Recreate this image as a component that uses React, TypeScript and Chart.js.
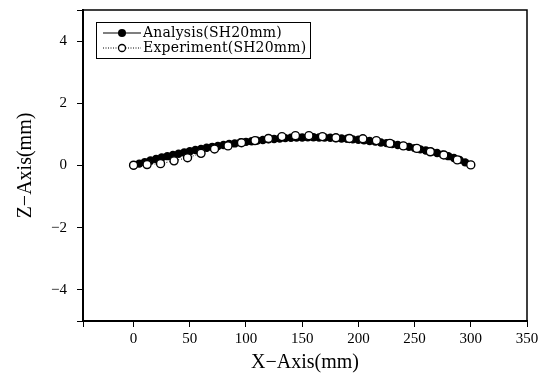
import { useEffect, useRef } from 'react';
import { Chart, registerables } from 'chart.js';

Chart.register(...registerables);

const analysisX = [0, 5, 10, 15, 20, 25, 30, 35, 40, 45, 50, 55, 60, 65, 70, 75, 80, 85, 90, 95, 100, 105, 110, 115, 120, 125, 130, 135, 140, 145, 150, 155, 160, 165, 170, 175, 180, 185, 190, 195, 200, 205, 210, 215, 220, 225, 230, 235, 240, 245, 250, 255, 260, 265, 270, 275, 280, 285, 290, 295, 300];
const analysisZ = [0.0, 0.06, 0.11, 0.16, 0.21, 0.26, 0.30, 0.34, 0.38, 0.42, 0.46, 0.50, 0.53, 0.57, 0.60, 0.63, 0.66, 0.69, 0.71, 0.74, 0.76, 0.78, 0.80, 0.82, 0.84, 0.85, 0.87, 0.88, 0.89, 0.90, 0.90, 0.91, 0.91, 0.90, 0.90, 0.89, 0.88, 0.87, 0.86, 0.84, 0.83, 0.81, 0.79, 0.77, 0.74, 0.72, 0.69, 0.66, 0.63, 0.60, 0.56, 0.52, 0.48, 0.44, 0.40, 0.35, 0.30, 0.24, 0.18, 0.10, 0.02];

const experimentX = [0, 12, 24, 36, 48, 60, 72, 84, 96, 108, 120, 132, 144, 156, 168, 180, 192, 204, 216, 228, 240, 252, 264, 276, 288, 300];
const experimentZ = [0.01, 0.03, 0.06, 0.15, 0.25, 0.39, 0.53, 0.63, 0.73, 0.80, 0.87, 0.93, 0.96, 0.96, 0.93, 0.89, 0.87, 0.86, 0.80, 0.71, 0.63, 0.55, 0.44, 0.34, 0.18, 0.02];

const seriesLabels = ['Analysis(SH20mm)', 'Experiment(SH20mm)'];
const xTicks = [-45, 0, 50, 100, 150, 200, 250, 300, 350];
const yTicks = [-5, -4, -2, 0, 2, 4, 5];
const yLabelled = [-4, -2, 0, 2, 4];

const FONT = '"Liberation Serif", "DejaVu Serif", serif';
const LEGEND_FONT = '"DejaVu Serif", "Liberation Serif", serif';

const framePlugin = {
  id: 'frame',
  afterDraw(chart: any) {
    const { ctx, chartArea } = chart;
    ctx.save();
    ctx.strokeStyle = '#000';
    ctx.lineWidth = 1.5;
    ctx.beginPath();
    ctx.moveTo(chartArea.left, chartArea.top);
    ctx.lineTo(chartArea.right, chartArea.top);
    ctx.lineTo(chartArea.right, chartArea.bottom);
    ctx.stroke();
    ctx.restore();
  },
};

const legendPlugin = {
  id: 'boxLegend',
  afterDraw(chart: any) {
    const { ctx } = chart;
    const x0 = 96, y0 = 22, w = 214, h = 36;
    ctx.save();
    ctx.fillStyle = '#fff';
    ctx.fillRect(x0, y0, w, h);
    ctx.strokeStyle = '#000';
    ctx.lineWidth = 1;
    ctx.strokeRect(x0 + 0.5, y0 + 0.5, w, h);
    const rows = [y0 + 11, y0 + 26];
    ctx.beginPath();
    ctx.moveTo(x0 + 7, rows[0]);
    ctx.lineTo(x0 + 45, rows[0]);
    ctx.lineWidth = 1.2;
    ctx.stroke();
    ctx.beginPath();
    ctx.arc(x0 + 26, rows[0], 4, 0, Math.PI * 2);
    ctx.fillStyle = '#000';
    ctx.fill();
    ctx.lineWidth = 1;
    ctx.setLineDash([1, 1.5]);
    ctx.beginPath();
    ctx.moveTo(x0 + 7, rows[1]);
    ctx.lineTo(x0 + 45, rows[1]);
    ctx.stroke();
    ctx.setLineDash([]);
    ctx.beginPath();
    ctx.arc(x0 + 26, rows[1], 3.5, 0, Math.PI * 2);
    ctx.fillStyle = '#fff';
    ctx.fill();
    ctx.lineWidth = 1.3;
    ctx.stroke();
    ctx.fillStyle = '#000';
    ctx.font = '14px ' + LEGEND_FONT;
    try { (ctx as any).letterSpacing = '0.2px'; } catch (e) { /* ignore */ }
    ctx.textBaseline = 'middle';
    ctx.textAlign = 'left';
    ctx.fillText(seriesLabels[0], x0 + 47, rows[0]);
    ctx.fillText(seriesLabels[1], x0 + 47, rows[1]);
    ctx.restore();
  },
};

export default function App() {
  const ref = useRef<HTMLCanvasElement | null>(null);
  useEffect(() => {
    document.body.style.margin = '0';
    const canvas = ref.current;
    if (!canvas) return;
    const chart = new Chart(canvas, {
      type: 'scatter',
      data: {
        datasets: [
          {
            label: seriesLabels[1],
            data: experimentX.map((x, i) => ({ x, y: experimentZ[i] })),
            showLine: true,
            borderColor: '#000',
            borderWidth: 1,
            borderDash: [1, 2],
            pointRadius: 4,
            pointBackgroundColor: '#fff',
            pointBorderColor: '#000',
            pointBorderWidth: 1.4,
            order: 0,
          },
          {
            label: seriesLabels[0],
            data: analysisX.map((x, i) => ({ x, y: analysisZ[i] })),
            showLine: true,
            borderColor: '#000',
            borderWidth: 2.5,
            pointRadius: 4.2,
            pointBackgroundColor: '#000',
            pointBorderColor: '#000',
            pointBorderWidth: 0,
            order: 1,
          },
        ],
      },
      options: {
        animation: false,
        responsive: false,
        layout: { padding: { left: 0, top: 10, right: 22, bottom: 0 } },
        plugins: { legend: { display: false }, tooltip: { enabled: false } },
        scales: {
          x: {
            type: 'linear',
            min: -45,
            max: 350,
            afterBuildTicks: (s: any) => { s.ticks = xTicks.map((v) => ({ value: v })); },
            afterFit: (s: any) => { s.height = 62; s.paddingLeft = 0; s.paddingRight = 0; },
            grid: { drawOnChartArea: false, drawTicks: true, tickLength: 6, color: '#000', lineWidth: 1 },
            border: { color: '#000', width: 2 },
            ticks: {
              color: '#000',
              padding: 3,
              maxRotation: 0,
              autoSkip: false,
              font: { family: FONT, size: 15 },
              callback: (v: any) => (v < 0 ? '' : String(v)),
            },
            title: {
              display: true,
              text: 'X−Axis(mm)',
              color: '#000',
              font: { family: FONT, size: 20 },
              padding: { top: 4, bottom: 8 },
            },
          },
          y: {
            type: 'linear',
            min: -5,
            max: 5,
            afterBuildTicks: (s: any) => { s.ticks = yTicks.map((v) => ({ value: v })); },
            afterFit: (s: any) => { s.width = 83; s.paddingTop = 0; s.paddingBottom = 0; },
            grid: { drawOnChartArea: false, drawTicks: true, tickLength: 6, color: '#000', lineWidth: 1 },
            border: { color: '#000', width: 2 },
            ticks: {
              color: '#000',
              padding: 10,
              autoSkip: false,
              font: { family: FONT, size: 15 },
              callback: (v: any) => (yLabelled.includes(v) ? (v < 0 ? '−' + Math.abs(v) : String(v)) : ''),
            },
            title: {
              display: true,
              text: 'Z−Axis(mm)',
              color: '#000',
              font: { family: FONT, size: 20 },
              padding: { top: 14, bottom: 0 },
            },
          },
        },
      },
      plugins: [framePlugin, legendPlugin],
    });
    return () => chart.destroy();
  }, []);
  return (
    <div style={{ width: 549, height: 383 }}>
      <canvas ref={ref} width={549} height={383} style={{ display: 'block', width: 549, height: 383 }} />
    </div>
  );
}
